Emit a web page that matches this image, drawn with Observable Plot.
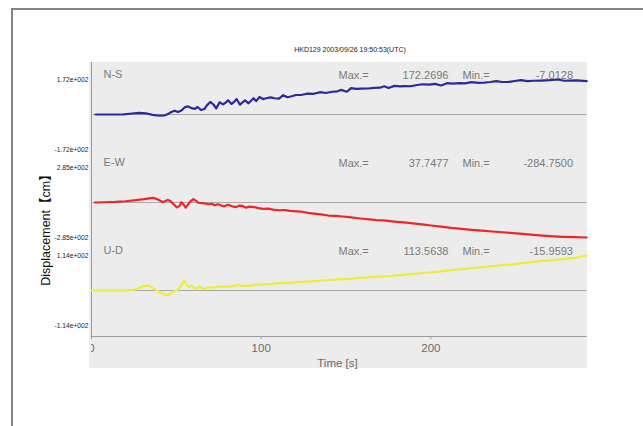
<!DOCTYPE html>
<html>
<head>
<meta charset="utf-8">
<script src="https://cdn.jsdelivr.net/npm/d3@7"></script>
<script src="https://cdn.jsdelivr.net/npm/@observablehq/plot@0.6"></script>
<style>
  html, body { margin: 0; padding: 0; background: #fff; overflow: hidden; }
  #wrap { position: relative; width: 643px; height: 426px; overflow: hidden; background: #fff;
          font-family: "Liberation Sans", Arial, sans-serif; }
  #frame { position: absolute; left: 0; top: 0; }
  #panel { position: absolute; left: 89px; top: 62px; width: 498px; height: 306px; background: #ececec; }
  #title { position: absolute; left: 250px; width: 200px; top: 46px; text-align: center;
           font-size: 7px; color: #222; }
  #ylabel { position: absolute; left: 44px; top: 227px; transform: translate(-50%, -50%) rotate(-90deg);
            white-space: nowrap; font-size: 12.5px; color: #111;
            font-family: "Liberation Sans", Arial, "Noto Sans CJK JP", sans-serif; }
  #ylabel b { font-family: "Noto Sans CJK JP", sans-serif; font-weight: 900; }
</style>
</head>
<body>
<div id="wrap">
  <svg id="frame" width="643" height="426"><path d="M12,440V9H700" fill="none" stroke="#858585" stroke-width="2"/></svg>
  <div id="panel"></div>
  <div id="title"></div>
  <div id="ylabel"></div>
</div>
<script>
// ---- data ----
const titleText = "HKD129 2003/09/26 19:50:53(UTC)";
const yLabelText = "Displacement【cm】";
const xLabelText = "Time [s]";
const xTicks = [0, 100, 200];
const components = ["N-S", "E-W", "U-D"];
const colors = ["#2a2a9a", "#f02626", "#f0ec3a"];
const maxVals = [172.2696, 37.7477, 113.5638];
const minVals = [-7.0128, -284.7500, -15.9593];
const axisLimits = [172.2696, 284.7500, 113.5638];

const nsT = [2.5,10,19,24,28,32,36,40,43,45,47,49,51,53,55,57,59,61,62.5,64.5,66.5,68,70,72,73.5,75.5,77.5,79,80.5,82.5,84,85.5,87.5,89,90.5,92.5,94,95.5,97,99,101,103,105.5,108,110.5,113,115.5,118,120.5,124,127.5,131,135,138,142,145,147,150.5,153,156,159,163,166.5,170,172.5,175,178.5,182,185,188,192,195,199,202.5,206,209.5,213,217,220,224,228,231.5,235,238.5,242,246,249.5,253,257,260.5,265,270,275,278.5,282,286,291.8];
const nsV = [0,0,1,5,8,6,-2,-6,-5,2,12,19,12,20,36,40,31,28,37,22,27,45,62,48,30,60,50,58,70,52,62,76,48,60,70,55,68,80,66,86,76,80,84,80,78,95,85,90,96,97,103,102,110,106,112,114,121,112,130,126,127,128,131,132,139,130,141,138,140,139,145,149,147,151,143,154,152,154,153,159,156,157,160,164,160,161,165,169,164,166,167,169,172.27,166,167,168,164];

const ewT = [2,8,14,20,25,31,34,36.3,38.5,40.5,42,43.5,45,46.5,48,50.3,51.8,53,54.4,55.5,57,58.5,60,61.5,63,65,67,69,71,72.5,74.5,76.5,78,80,81.7,83.5,85.3,87,89,91,93,96,98.5,101,104,107,110.7,114,117,121,124,127.6,131,135,139.7,144,148,151.8,156,160,164,168,172,176,180,184,188,192,196,200,206,212,218,224,230,236.3,242,248.4,254,260.5,266,272.5,278,284.6,291.8];
const ewV = [0,2,5,10,18,27,33,37.75,28,14,4,12,21,12,-8,-40,-28,2,-18,-42,-15,12,28,15,-2,-5,-8,-14,-10,-22,-14,-25,-32,-20,-24,-34,-37,-26,-28,-42,-34,-38,-46,-52,-50,-58,-63,-62,-68,-72,-75,-85,-90,-96,-106,-109,-114,-119,-126,-132,-138,-143,-146,-152,-157,-162,-168,-174,-180,-187,-196,-206,-214,-222,-229,-236,-242,-249,-256,-263,-269,-275,-279,-282,-284.75];

const udT = [0,10,19,24,27,30,32,34,36,38,40,42,44.3,46,48,50.3,52,53.5,54.8,56,57.5,59,60.5,62,63.6,65,66.5,68,70,72,74.5,77,79,81.7,84,86.5,89,91.4,94,96.2,100,105.9,110,115.5,121,127.6,133,139.7,145,151.8,158,163.9,170,176,182,188,194,200,206,212,218,224,230,236.3,242,248.4,254,260.5,266,272.5,278,284.6,291.8];
const udV = [0,0,0,2,5,13,16,14,8,2,-5,-10,-15.96,-12,-4,0,8,22,31,18,10,16,8,6,14,8,4,8,11,9,13,11,14,12,15,18,14,16,15,18,19,21,23,25,27,29,31,34,36,38,41,43,45,47,50,53,56,59,62,66,69,73,76,79,82,85,89,93,96,99,102,106,113.5];

const series = [[nsT, nsV], [ewT, ewV], [udT, udV]];

// ---- layout ----
const W = 643, H = 426;
const xDomain = [0, 292];
const mLeft = 91, mRight = 56.5;
const bands = [[79, 149], [167, 237], [255, 325]];
const font = "'Liberation Sans', Arial, sans-serif";

function sci(v) {
  const s = d3.format(".2e")(Math.abs(v)).replace(/e([+-])(\d+)/, (m, sg, d) => "e" + sg + d.padStart(3, "0"));
  return (v < 0 ? "-" : "") + s;
}

document.getElementById("title").textContent = titleText;
document.getElementById("ylabel").innerHTML = yLabelText
  .replace("【", "<b>【</b>").replace("】", "<b>】</b>");
const wrap = document.getElementById("wrap");

const axisPlot = Plot.plot({
  width: 500, height: H,
  marginLeft: 0, marginRight: 4.5, marginTop: 62, marginBottom: H - 336,
  style: {fontFamily: font, overflow: "hidden", background: "transparent", maxWidth: "none"},
  x: {domain: xDomain, axis: null},
  y: {domain: [0, 1], axis: null},
  marks: [
    Plot.ruleX([0], {stroke: "#9a9a9a", strokeWidth: 1}),
    Plot.ruleY([0], {stroke: "#9a9a9a", strokeWidth: 1}),
    Plot.axisX({ticks: xTicks, tickSize: 3, tickPadding: 4, fontSize: 11.5, fill: "#6a6a6a", stroke: "#9a9a9a", label: null, anchor: "bottom"}),
    Plot.text([xLabelText], {frameAnchor: "bottom", dx: -1.75, dy: 26.7, lineAnchor: "middle", fontSize: 11.5, fill: "#6a6a6a"})
  ]
});
axisPlot.style.position = "absolute";
axisPlot.style.left = mLeft + "px";
axisPlot.style.top = "0px";
wrap.appendChild(axisPlot);

components.forEach((name, k) => {
  const [tt, vv] = series[k];
  const M = axisLimits[k];
  const [top, bottom] = bands[k];
  const idx = d3.range(tt.length);
  const p = Plot.plot({
    width: W, height: H,
    marginLeft: mLeft, marginRight: mRight, marginTop: top, marginBottom: H - bottom,
    style: {fontFamily: font, overflow: "hidden", background: "transparent"},
    x: {domain: xDomain, axis: null},
    y: {domain: [-M, M]},
    marks: [
      Plot.ruleY([0], {stroke: "#a9a9a9", strokeWidth: 1}),
      Plot.axisY({ticks: [-M, M], tickFormat: sci, tickSize: 0, tickPadding: 3, fontSize: 6.7, fill: "#222", label: null}),
      Plot.line(idx, {x: i => tt[i], y: i => vv[i], stroke: colors[k], strokeWidth: 2.2, curve: "linear"}),
      Plot.text([name], {frameAnchor: "top-left", dx: 12, dy: -5, lineAnchor: "middle", fontSize: 11, fill: "#7a7a7a"}),
      Plot.text(["Max.="], {frameAnchor: "top-left", dx: 247, dy: -4, lineAnchor: "middle", fontSize: 11, fill: "#7a7a7a"}),
      Plot.text([maxVals[k].toFixed(4)], {frameAnchor: "top-left", textAnchor: "end", dx: 357, dy: -4, lineAnchor: "middle", fontSize: 11, fill: "#7a7a7a"}),
      Plot.text(["Min.="], {frameAnchor: "top-left", dx: 371, dy: -4, lineAnchor: "middle", fontSize: 11, fill: "#7a7a7a"}),
      Plot.text([minVals[k].toFixed(4)], {frameAnchor: "top-left", textAnchor: "end", dx: 481.5, dy: -4, lineAnchor: "middle", fontSize: 11, fill: "#7a7a7a"})
    ]
  });
  p.style.position = "absolute";
  p.style.left = "0px";
  p.style.top = "0px";
  wrap.appendChild(p);
});
</script>
</body>
</html>
